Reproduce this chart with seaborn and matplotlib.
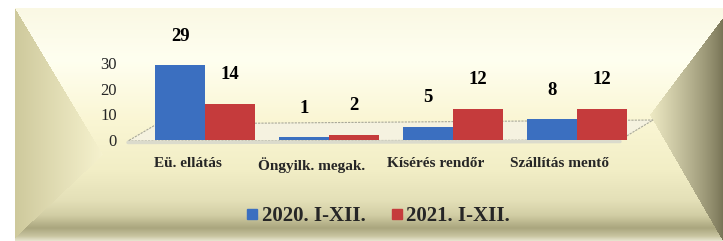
import numpy as np
import pandas as pd
import seaborn as sns
import matplotlib.pyplot as plt
from matplotlib.lines import Line2D
from matplotlib.patches import Polygon
import matplotlib.transforms as mtransforms

categories = ["Eü. ellátás", "Öngyilk. megak.", "Kísérés rendőr", "Szállítás mentő"]
series = ["2020. I-XII.", "2021. I-XII."]
values_2020 = [29, 1, 5, 8]
values_2021 = [14, 2, 12, 12]
yticks = [0, 10, 20, 30]

df = pd.DataFrame({
    "cat": categories * 2,
    "val": values_2020 + values_2021,
    "series": [series[0]] * len(categories) + [series[1]] * len(categories),
})

sns.set_theme(style="white")
plt.rcParams['font.family'] = ['Liberation Serif', 'DejaVu Serif']

W, H = 723, 241
fig = plt.figure(figsize=(7.23, 2.41), dpi=100)
fig.patch.set_facecolor("white")

# ---- decorative bevelled background -----
bg = fig.add_axes([0, 0, 1, 1])
bg.set_xlim(0, W)
bg.set_ylim(H, 0)
bg.axis("off")
yy, xx = np.mgrid[0:H, 0:W].astype(float) + 0.5
img = np.ones((H, W, 3))
ys = [0, 8, 60, 120, 170, 200, 215, 228, 236, 241]
cols = np.array([(250, 248, 228), (250, 248, 228), (255, 255, 240), (250, 246, 212),
                 (242, 238, 198), (228, 224, 184), (210, 206, 165), (170, 166, 126),
                 (200, 196, 160), (232, 230, 208)]) / 255.0
for c in range(3):
    img[..., c] = np.interp(yy, ys, cols[:, c])
# left bevel
lb = np.where(yy < 155, 15 + (yy - 8) * (88 / 147), 15 + (238 - yy) * (88 / 83))
mask_l = (xx >= 15) & (xx < lb) & (yy >= 8) & (yy <= 238)
t = np.clip((xx - 15) / 88, 0, 1)
lc0 = np.array([206, 201, 156]) / 255
lc1 = np.array([246, 242, 206]) / 255
for c in range(3):
    img[..., c] = np.where(mask_l, lc0[c] + (lc1[c] - lc0[c]) * t, img[..., c])
# right bevel
rb = np.where(yy < 115, 723 - (yy - 18) * (73 / 97), 723 - (241 - yy) * (73 / 126))
mask_r = (xx > rb) & (yy >= 18)
t2 = np.clip((W - xx) / 73, 0, 1)
rc0 = np.array([118, 114, 84]) / 255
rc1 = np.array([238, 234, 196]) / 255
for c in range(3):
    img[..., c] = np.where(mask_r, rc0[c] + (rc1[c] - rc0[c]) * t2 ** 0.8, img[..., c])
# white outer margin
img[yy < 8] = 1.0
img[xx < 15] = 1.0
bg.imshow(img, extent=(0, W, H, 0), aspect="auto", zorder=0)
# floor of the 3D plot
floor = Polygon([(128, 141), (620, 140), (653, 120), (157, 124)], closed=True,
                facecolor=(0.96, 0.95, 0.88), edgecolor=(0.66, 0.66, 0.60),
                lw=0.8, linestyle=(0, (2, 1)), zorder=1)
bg.add_patch(floor)
bg.plot([128, 620], [142.5, 141.5], color=(0.86, 0.86, 0.80), lw=2.5, zorder=1)

# ---- chart axes -----
ax = fig.add_axes([143 / W, 1 - 140 / H, 496 / W, 90 / H])
ax.patch.set_alpha(0)
blue = "#3b6fc0"
red = "#c53b3c"
sns.barplot(data=df, x="cat", y="val", hue="series", palette=[blue, red],
            width=0.8, ax=ax, saturation=1, linewidth=0.0)
if ax.get_legend() is not None:
    ax.get_legend().remove()
for cont in ax.containers:
    ax.bar_label(cont, padding=15, fontsize=13.5, fontweight="bold", color="black")
ax.set_ylim(0, 35)
ax.set_yticks(yticks)
ax.set_yticklabels([str(v) for v in yticks], fontsize=12)
ax.tick_params(axis="y", length=0, pad=19)
ax.tick_params(axis="x", length=0, pad=12)
ax.set_xlabel("")
ax.set_ylabel("")
for lab in ax.get_xticklabels():
    lab.set_fontweight("bold")
    lab.set_fontsize(11)
    lab.set_transform(lab.get_transform() +
                      mtransforms.ScaledTranslation(-17 / 100, 0, fig.dpi_scale_trans))
for s in ax.spines.values():
    s.set_visible(False)

handles = [Line2D([], [], marker="s", linestyle="", markersize=7,
                  markerfacecolor=blue, markeredgecolor=blue),
           Line2D([], [], marker="s", linestyle="", markersize=7,
                  markerfacecolor=red, markeredgecolor=red)]
fig.legend(handles, series, loc="center", bbox_to_anchor=(378 / W, 1 - 216 / H),
           ncol=2, frameon=False, handlelength=0.6, handletextpad=0.15,
           columnspacing=1.2, prop={"weight": "bold", "size": 15})

fig.savefig("out.png", dpi=100)
